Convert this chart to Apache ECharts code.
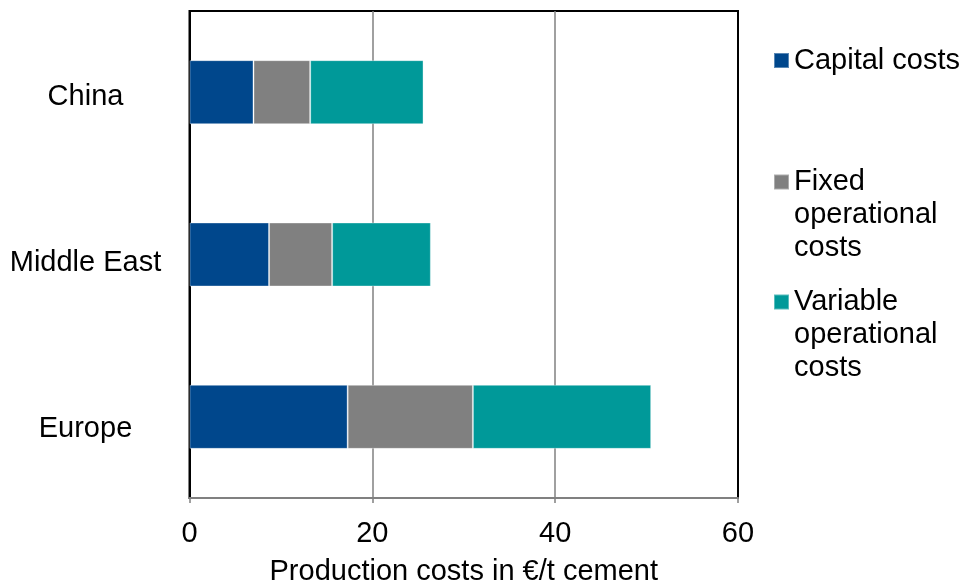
<!DOCTYPE html>
<html>
<head>
<meta charset="utf-8">
<title>Cement production costs</title>
<script src="https://cdn.jsdelivr.net/npm/echarts@6/dist/echarts.min.js"></script>
<style>
  html, body { margin: 0; padding: 0; background: #fff; }
  #chart { width: 963px; height: 585px; }
</style>
</head>
<body>
<div id="chart"></div>
<script>
// Regions (top to bottom) and cost components in €/t cement
const regions = ['China', 'Middle East', 'Europe'];
const capitalCosts = [7.0, 8.7, 17.3];
const fixedOpCosts = [6.2, 6.9, 13.7];
const variableOpCosts = [12.4, 10.8, 19.5];
const xTicks = { min: 0, max: 60, interval: 20 };

const seriesNames = ['Capital costs', 'Fixed operational costs', 'Variable operational costs'];
const seriesColors = ['#00478C', '#808080', '#009999'];
const legendLabels = ['Capital costs', 'Fixed\noperational\ncosts', 'Variable\noperational\ncosts'];

const FONT = '"Liberation Sans", Arial, sans-serif';
const FS = 29;
const LH = 33;

const chart = echarts.init(document.getElementById('chart'), null, { renderer: 'canvas' });

// One legend per entry so each block can be placed on its own; the marker
// is vertically centred on the label, so multi-line labels get blank lines
// above them to bring the first line level with the marker.
function legendFor(idx, top) {
  const label = legendLabels[idx];
  const extra = label.split('\n').length - 1;
  const text = '\n'.repeat(extra) + label;
  return {
    orient: 'vertical',
    left: 773,
    top: top,
    padding: 0,
    itemWidth: 15,
    itemHeight: 15,
    itemGap: 0,
    icon: 'rect',
    selectedMode: false,
    data: [seriesNames[idx]],
    formatter: () => text,
    textStyle: {
      fontFamily: FONT,
      fontSize: FS,
      lineHeight: LH,
      color: '#000'
    }
  };
}

// Per-row label offsets (top padding on the rich text block)
const labelPad = { China: 9, 'Middle East': 16, Europe: 24 };
const labelRich = {};
regions.forEach((r, i) => {
  labelRich['r' + i] = {
    fontFamily: FONT,
    fontSize: FS,
    color: '#000',
    padding: [labelPad[r], 0, 0, 0]
  };
});

const data = [capitalCosts, fixedOpCosts, variableOpCosts];

chart.setOption({
  animation: false,
  backgroundColor: '#fff',
  grid: {
    left: 189.5,
    right: 225,
    top: 11,
    bottom: 87,
    outerBoundsMode: 'none',
    containLabel: false,
    show: true,
    borderColor: '#000',
    borderWidth: 2,
    backgroundColor: 'transparent'
  },
  legend: [
    legendFor(0, 44),
    legendFor(1, 99.5),
    legendFor(2, 219.5)
  ],
  xAxis: {
    type: 'value',
    min: xTicks.min,
    max: xTicks.max,
    interval: xTicks.interval,
    name: 'Production costs in €/t cement',
    nameLocation: 'middle',
    nameGap: 59,
    nameTextStyle: { fontFamily: FONT, fontSize: FS, color: '#000' },
    axisLine: { show: true, lineStyle: { color: '#808080', width: 2 } },
    axisTick: { show: true, length: 5, lineStyle: { color: '#808080', width: 1.5 } },
    axisLabel: { fontFamily: FONT, fontSize: FS, color: '#000', margin: 21 },
    splitLine: {
      show: true,
      showMinLine: false,
      showMaxLine: false,
      lineStyle: { color: '#808080', width: 1.5 }
    }
  },
  yAxis: {
    type: 'category',
    data: regions,
    inverse: true,
    axisLine: { show: true, lineStyle: { color: '#000', width: 2 } },
    axisTick: { show: false },
    axisLabel: {
      fontFamily: FONT,
      fontSize: FS,
      color: '#000',
      align: 'center',
      margin: 104,
      formatter: (value, index) => '{r' + index + '|' + value + '}',
      rich: labelRich
    },
    splitLine: { show: false }
  },
  series: seriesNames.map((name, i) => ({
    name: name,
    type: 'bar',
    stack: 'total',
    barWidth: 64,
    data: data[i],
    itemStyle: {
      color: seriesColors[i],
      borderColor: 'rgba(255,255,255,0.35)',
      borderWidth: 1
    }
  }))
});
</script>
</body>
</html>
